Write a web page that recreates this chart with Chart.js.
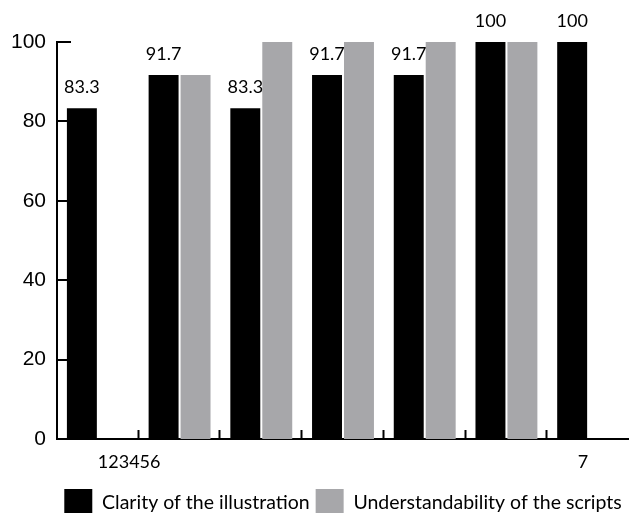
<!DOCTYPE html>
<html>
<head>
<meta charset="utf-8">
<script src="https://cdn.jsdelivr.net/npm/chart.js@4/dist/chart.umd.min.js"></script>
<style>
  html, body { margin: 0; padding: 0; background: #fff; overflow: hidden; }
  #wrap { position: relative; width: 629px; height: 527px; }
</style>
</head>
<body>
<div id="wrap"><canvas id="c"></canvas></div>
<script>
// Survey items 1..7 and the percentage scores of each rating
const categories = ['1', '2', '3', '4', '5', '6', '7'];
const xTickLabels = ['123456', '', '', '', '', '', '7'];
const clarity = [83.3, 91.7, 83.3, 91.7, 91.7, 100, 100];
const understandability = [null, 91.7, 100, 100, 100, 100, null];
const yTicks = [0, 20, 40, 60, 80, 100];

const BLACK = '#000000';
const GREY = '#a7a7aa';
const LABEL_FONT = 'Lato, "Open Sans", sans-serif';

// Inward tick marks on both axes plus value labels over the black bars
const decorations = {
  id: 'decorations',
  afterDatasetsDraw(chart) {
    const { ctx, chartArea, scales } = chart;
    const x = scales.x, y = scales.y;
    ctx.save();
    ctx.strokeStyle = '#000';
    ctx.lineWidth = 2;
    // y ticks pointing into the plot
    yTicks.forEach(v => {
      if (v === 0) return;
      const py = Math.round(y.getPixelForValue(v));
      ctx.beginPath();
      ctx.moveTo(chartArea.left, py);
      ctx.lineTo(chartArea.left + 14, py);
      ctx.stroke();
    });
    // x ticks at the category boundaries, pointing up
    const step = (x.right - x.left) / categories.length;
    for (let i = 1; i < categories.length; i++) {
      const px = Math.round(x.left + step * i) - 0.5;
      ctx.beginPath();
      ctx.moveTo(px, chartArea.bottom);
      ctx.lineTo(px, chartArea.bottom - 9);
      ctx.stroke();
    }
    // value labels for the clarity series
    const meta = chart.getDatasetMeta(0);
    ctx.fillStyle = '#000';
    ctx.font = '18px ' + LABEL_FONT;
    ctx.textAlign = 'center';
    ctx.textBaseline = 'alphabetic';
    meta.data.forEach((bar, i) => {
      const v = clarity[i];
      if (v == null) return;
      ctx.fillText(String(v), bar.x, y.getPixelForValue(v) - 15);
    });
    ctx.restore();
  }
};

new Chart(document.getElementById('c'), {
  type: 'bar',
  data: {
    labels: categories,
    datasets: [
      {
        label: 'Clarity of the illustration',
        data: clarity,
        backgroundColor: BLACK,
        borderWidth: 0,
        categoryPercentage: 0.782,
        barPercentage: 0.9375
      },
      {
        label: 'Understandability of the scripts',
        data: understandability,
        backgroundColor: GREY,
        borderWidth: 0,
        categoryPercentage: 0.782,
        barPercentage: 0.9375
      }
    ]
  },
  options: {
    responsive: true,
    maintainAspectRatio: false,
    animation: false,
    devicePixelRatio: 1,
    layout: { padding: { top: 42, left: 0, right: 0, bottom: 0 } },
    plugins: {
      tooltip: { enabled: false },
      legend: {
        position: 'bottom',
        fullSize: false,
        labels: {
          boxWidth: 28,
          boxHeight: 28,
          padding: 6,
          color: '#000',
          font: { family: LABEL_FONT, size: 19.5 }
        }
      }
    },
    scales: {
      x: {
        afterFit(scale) { scale.height = 44; },
        grid: { display: false, drawTicks: false },
        border: { display: true, color: '#000', width: 2 },
        ticks: {
          align: 'inner',
          maxRotation: 0,
          autoSkip: false,
          padding: 12,
          color: '#000',
          font: { family: LABEL_FONT, size: 18 },
          callback: (v, i) => xTickLabels[i]
        }
      },
      y: {
        min: 0,
        max: 100,
        afterFit(scale) { scale.width = 57; },
        afterBuildTicks(scale) { scale.ticks = yTicks.map(v => ({ value: v })); },
        grid: { display: false, drawTicks: false },
        border: { display: true, color: '#000', width: 2 },
        ticks: {
          padding: 11,
          color: '#000',
          font: { family: '"Liberation Sans", Arial, sans-serif', size: 21 }
        }
      }
    }
  },
  plugins: [decorations]
});
</script>
</body>
</html>
